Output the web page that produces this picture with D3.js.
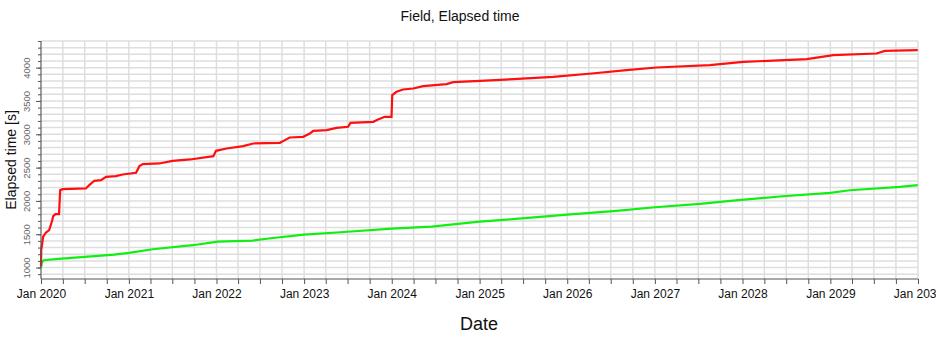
<!DOCTYPE html>
<html>
<head>
<meta charset="utf-8">
<script src="https://cdn.jsdelivr.net/npm/d3@7"></script>
<style>
  html, body { margin: 0; padding: 0; background: #fff; }
  svg { display: block; font-family: "Liberation Sans", Arial, sans-serif; }
</style>
</head>
<body>
<svg id="chart" width="936" height="338"></svg>
<script>
// Cumulative elapsed time per field (seconds), sampled at the step changes
const redDates = ["2020-01-01","2020-01-02","2020-01-10","2020-01-21","2020-02-04","2020-02-15","2020-02-21","2020-03-01","2020-03-16","2020-03-21","2020-03-31","2020-07-06","2020-07-20","2020-08-10","2020-09-07","2020-09-28","2020-11-08","2020-12-06","2021-01-31","2021-02-14","2021-02-28","2021-05-08","2021-07-02","2021-09-13","2021-12-19","2021-12-30","2022-02-12","2022-04-22","2022-06-03","2022-09-22","2022-10-13","2022-11-02","2022-12-28","2023-01-25","2023-02-08","2023-04-05","2023-05-16","2023-07-03","2023-07-13","2023-10-16","2023-11-05","2023-12-03","2023-12-31","2024-01-03","2024-01-21","2024-02-17","2024-03-30","2024-05-11","2024-08-16","2024-09-13","2025-01-03","2025-05-21","2025-11-03","2026-04-13","2026-09-05","2027-01-08","2027-08-18","2028-01-04","2028-09-25","2029-01-13","2029-07-12","2029-08-16","2029-12-31"];
const redValues = [1020,1262,1462,1522,1562,1687,1772,1802,1802,2162,2177,2187,2237,2302,2312,2362,2372,2397,2422,2522,2552,2562,2602,2622,2672,2752,2787,2822,2862,2872,2912,2952,2962,3012,3052,3062,3097,3112,3172,3187,3222,3262,3262,3587,3637,3672,3687,3722,3752,3782,3802,3827,3862,3912,3962,4002,4037,4087,4127,4187,4212,4252,4262];

const greenDates = ["2020-01-01","2020-01-04","2020-01-12","2020-03-01","2020-07-01","2020-11-01","2021-01-01","2021-04-10","2021-09-25","2022-01-05","2022-06-01","2022-08-15","2023-01-01","2023-06-01","2024-01-01","2024-06-15","2025-01-01","2025-06-01","2026-01-01","2026-07-25","2027-01-01","2027-07-08","2027-11-23","2028-06-16","2029-01-01","2029-03-23","2029-10-17","2029-12-31"];
const greenValues = [1000,1070,1110,1125,1160,1195,1220,1275,1335,1390,1405,1440,1495,1530,1585,1615,1690,1730,1795,1850,1905,1955,2005,2070,2120,2160,2210,2237];

const yTickLabels = [1000, 1500, 2000, 2500, 3000, 3500, 4000];

const parse = d3.timeParse("%Y-%m-%d");
const red = redDates.map((d, i) => ({ date: parse(d), value: redValues[i] }));
const green = greenDates.map((d, i) => ({ date: parse(d), value: greenValues[i] }));

const margin = { left: 41, right: 18, top: 41, bottom: 59 };
const W = 936, H = 338;
const svg = d3.select("#chart");

const x = d3.scaleTime()
  .domain([new Date(2020, 0, 1), new Date(2030, 0, 1)])
  .range([margin.left, W - margin.right]);
const y = d3.scaleLinear()
  .domain([828, 4400])
  .range([H - margin.bottom, margin.top]);

const x0 = x.range()[0], x1 = x.range()[1];
const y0 = y.range()[0], y1 = y.range()[1];

// Grid: every 100 s horizontally, every quarter vertically
const grid = svg.append("g").attr("stroke", "#dedede").attr("stroke-width", 1.5);
grid.selectAll("line.h").data(d3.range(900, 4401, 100)).join("line")
  .attr("x1", x0).attr("x2", x1)
  .attr("y1", d => y(d)).attr("y2", d => y(d));
const quarters = d3.timeMonth.every(3).range(new Date(2020, 0, 1), new Date(2030, 0, 2));
grid.selectAll("line.v").data(quarters).join("line")
  .attr("x1", d => x(d)).attr("x2", d => x(d))
  .attr("y1", y1).attr("y2", y0);

// Series lines
const line = d3.line().x(d => x(d.date)).y(d => y(d.value));
svg.append("path").datum(green)
  .attr("fill", "none").attr("stroke", "#11ee11").attr("stroke-width", 2.2)
  .attr("d", line);
svg.append("path").datum(red)
  .attr("fill", "none").attr("stroke", "#ff1010").attr("stroke-width", 2.2)
  .attr("d", line);

// Left axis: minor ticks every 100, labelled ticks every 500
const yMinor = d3.axisLeft(y).tickValues(d3.range(900, 4401, 100)).tickSize(3).tickFormat("");
const gyMinor = svg.append("g").attr("transform", `translate(${x0},0)`).call(yMinor);
gyMinor.select(".domain").remove();
gyMinor.selectAll("line").attr("stroke", "#555");

const yMajor = d3.axisLeft(y).tickValues(yTickLabels).tickSize(5).tickFormat(d3.format("d"));
const gy = svg.append("g").attr("transform", `translate(${x0},0)`).call(yMajor);
gy.select(".domain").attr("stroke", "#555").attr("d", `M0,${y1}V${y0}`);
gy.selectAll("line").attr("stroke", "#555");
gy.selectAll("text")
  .attr("fill", "#666").style("font-size", "9.5px")
  .attr("text-anchor", "middle")
  .attr("x", 0).attr("y", 0).attr("dy", "0.35em")
  .attr("transform", "translate(-14,0) rotate(-90)");

// Bottom axis: quarterly ticks, labels at January
const xAxis = d3.axisBottom(x).tickValues(quarters).tickSize(5).tickPadding(5)
  .tickFormat(d => d.getMonth() === 0 ? d3.timeFormat("Jan %Y")(d) : "");
const gx = svg.append("g").attr("transform", `translate(0,${y0})`).call(xAxis);
gx.select(".domain").attr("stroke", "#555").attr("d", `M${x0},0H${x1}`);
gx.selectAll("line").attr("stroke", "#555");
gx.selectAll("text").attr("fill", "#111").style("font-size", "12px").attr("dy", "0.71em");

// Titles
svg.append("text").attr("x", 460).attr("y", 21).attr("text-anchor", "middle")
  .style("font-size", "14px").attr("fill", "#111").text("Field, Elapsed time");
svg.append("text").attr("x", 479).attr("y", 330).attr("text-anchor", "middle")
  .style("font-size", "18px").attr("fill", "#111").text("Date");
svg.append("text")
  .attr("transform", `translate(16, ${(y0 + y1) / 2}) rotate(-90)`)
  .attr("text-anchor", "middle")
  .style("font-size", "14px").attr("fill", "#111").text("Elapsed time [s]");
</script>
</body>
</html>
